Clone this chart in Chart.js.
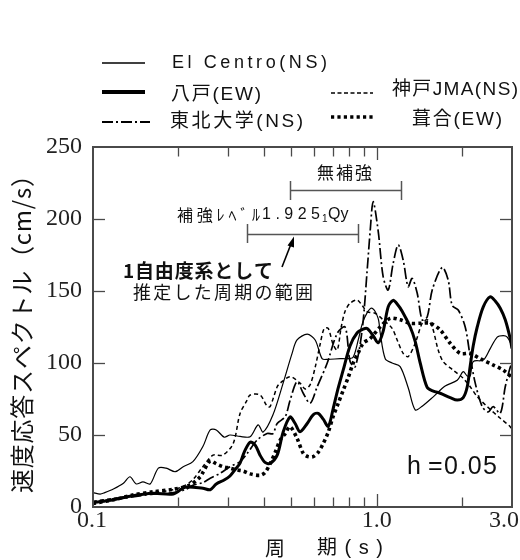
<!DOCTYPE html>
<html>
<head>
<meta charset="utf-8">
<script src="https://cdn.jsdelivr.net/npm/chart.js@4.4.1/dist/chart.umd.min.js"></script>
<style>
  html, body { margin: 0; padding: 0; background: #fff; }
  #wrap { width: 520px; height: 560px; }
</style>
</head>
<body>
<div id="wrap"><canvas id="c" width="520" height="560"></canvas></div>
<script>
// 速度応答スペクトル (h = 0.05) — periods in s, velocities in cm/s
const seriesNames = ['El Centro(NS)', '八戸(EW)', '東北大学(NS)', '神戸JMA(NS)', '葺合(EW)'];

const elCentroT = [0.100, 0.106, 0.110, 0.118, 0.128, 0.135, 0.142, 0.150, 0.159, 0.170, 0.181, 0.195, 0.208, 0.225, 0.244, 0.259, 0.272, 0.290, 0.304, 0.330, 0.358, 0.382, 0.398, 0.431, 0.468, 0.503, 0.524, 0.569, 0.607, 0.642, 0.669, 0.744, 0.787, 0.826, 0.861, 0.889, 0.926, 0.964, 1.012, 1.029, 1.072, 1.134, 1.210, 1.291, 1.367, 1.447, 1.583, 1.744, 1.923, 2.019, 2.086, 2.137, 2.190, 2.376, 2.514, 2.661, 2.795, 2.886, 3.0];
const elCentroV = [10, 9, 10, 12.5, 16.5, 21, 16, 17.5, 16, 27, 27, 24.5, 28, 31.5, 42, 53.5, 53.5, 48.5, 50, 49, 48.8, 57, 52, 64, 86, 106.5, 116, 120, 116, 103, 102.5, 103, 103, 104, 116, 127, 135, 138, 131, 121, 103, 100, 97.5, 83, 67.5, 70, 76.5, 84, 88, 94, 91, 91, 101, 102, 110, 118, 119, 118, 112];

const hachinoheT = [0.100, 0.118, 0.135, 0.163, 0.192, 0.211, 0.244, 0.259, 0.272, 0.290, 0.304, 0.317, 0.330, 0.341, 0.358, 0.373, 0.388, 0.404, 0.421, 0.446, 0.468, 0.495, 0.516, 0.537, 0.569, 0.597, 0.622, 0.648, 0.675, 0.702, 0.726, 0.762, 0.806, 0.854, 0.896, 0.926, 0.972, 1.012, 1.054, 1.098, 1.143, 1.181, 1.230, 1.313, 1.367, 1.424, 1.507, 1.583, 1.675, 1.816, 1.923, 2.019, 2.086, 2.137, 2.190, 2.262, 2.376, 2.514, 2.618, 2.727, 2.840, 2.957, 3.0];
const hachinoheV = [3, 5, 7.5, 9.5, 9, 13.7, 13, 12, 16, 18.7, 21.5, 26, 30.5, 38, 45, 43, 36, 31, 30.3, 36, 52, 62.5, 58, 52.3, 58, 64, 65, 61, 56, 68, 80, 95, 112, 121, 123.5, 124, 119, 114, 122, 139, 143.5, 141, 136, 125, 115, 100, 83, 80.5, 79, 76, 74.3, 76, 83.5, 98, 112, 125, 139, 146, 143, 138, 130, 117, 110];

const tohokuT = [0.100, 0.118, 0.138, 0.163, 0.192, 0.211, 0.225, 0.244, 0.259, 0.281, 0.304, 0.330, 0.349, 0.379, 0.411, 0.431, 0.446, 0.476, 0.495, 0.524, 0.551, 0.583, 0.617, 0.669, 0.726, 0.774, 0.806, 0.840, 0.889, 0.926, 0.949, 0.972, 1.012, 1.054, 1.098, 1.143, 1.191, 1.240, 1.291, 1.334, 1.390, 1.447, 1.507, 1.570, 1.702, 1.787, 1.846, 1.939, 2.052, 2.137, 2.226, 2.356, 2.474, 2.576, 2.727, 2.840, 2.957, 3.0];
const tohokuV = [3, 5, 7, 9, 10, 12, 15, 17, 20, 23.5, 28, 31.5, 37, 46.5, 51, 51, 58, 62.7, 74, 87, 79, 72, 83.5, 99.8, 120.6, 125, 101, 97.4, 123, 164.6, 192, 212, 192, 160, 150.7, 169, 182, 171.5, 153, 158.8, 148.4, 130, 132, 150.7, 166.4, 157.6, 140, 136.8, 125, 104.4, 86, 69.7, 66, 69.7, 65, 83.5, 97, 100];

const kobeT = [0.100, 0.118, 0.138, 0.163, 0.192, 0.211, 0.225, 0.244, 0.265, 0.287, 0.312, 0.330, 0.349, 0.358, 0.388, 0.411, 0.421, 0.446, 0.457, 0.495, 0.537, 0.560, 0.583, 0.607, 0.632, 0.653, 0.675, 0.702, 0.726, 0.750, 0.774, 0.806, 0.854, 0.889, 0.926, 0.988, 1.054, 1.134, 1.181, 1.240, 1.291, 1.367, 1.447, 1.507, 1.570, 1.648, 1.716, 1.861, 2.019, 2.137, 2.262, 2.454, 2.727, 2.957, 3.0];
const kobeV = [4, 6, 8, 10, 12, 15, 19, 28, 36, 36, 44, 65, 74, 77.8, 77.8, 70, 69.7, 83.5, 86, 90.5, 86, 82, 85, 97, 113, 124, 124, 113, 109, 125, 136, 141.5, 143.7, 140, 135.6, 134.5, 130, 124, 116, 106.7, 104.4, 113.7, 127.6, 130, 125, 109, 101, 95, 89.4, 83.5, 76.6, 69.7, 61.6, 55.8, 53];

const fukiaiT = [0.100, 0.118, 0.138, 0.163, 0.192, 0.220, 0.239, 0.244, 0.259, 0.272, 0.287, 0.304, 0.322, 0.338, 0.358, 0.388, 0.404, 0.421, 0.439, 0.457, 0.476, 0.495, 0.524, 0.551, 0.573, 0.597, 0.622, 0.648, 0.675, 0.702, 0.732, 0.762, 0.794, 0.826, 0.861, 0.896, 0.949, 1.029, 1.116, 1.210, 1.313, 1.424, 1.544, 1.675, 1.816, 1.970, 2.137, 2.318, 2.576, 2.795, 3.0];
const fukiaiV = [2.5, 5, 8.3, 10.6, 12.3, 15.3, 21, 24, 32, 30, 28, 27, 25.7, 25, 23, 22, 24, 30, 38, 46.5, 51, 55.8, 47.7, 37.3, 35, 35, 38, 44, 52, 62.7, 72, 81, 90, 99.8, 107, 113.7, 117, 125, 131, 130, 127.6, 127.6, 127.6, 123, 113.7, 106.7, 106.7, 103, 98.6, 95, 90];

// axis ticks
const periodMinorTicks = [0.2, 0.3, 0.4, 0.5, 0.6, 0.7, 0.8, 0.9, 1.0, 2.0];
const periodLabelValues = [0.1, 1.0, 3.0];
const periodLabelTexts = ['0.1', '1.0', '3.0'];
const velocityTicks = [50, 100, 150, 200];

const CJK = '"Noto Sans CJK JP"';
const SANS = '"Liberation Sans", "Noto Sans CJK JP"';
const SERIF = '"Liberation Serif", "Times New Roman", serif';

function pts(T, V) { return T.map((t, i) => ({ x: t, y: V[i] })); }

const lineStyles = [
  { borderWidth: 1.2, borderDash: [] },
  { borderWidth: 3, borderDash: [] },
  { borderWidth: 1.7, borderDash: [11, 3, 2, 3] },
  { borderWidth: 1.5, borderDash: [4, 3] },
  { borderWidth: 3.6, borderDash: [3.2, 3.2] }
];
const seriesData = [
  pts(elCentroT, elCentroV),
  pts(hachinoheT, hachinoheV),
  pts(tohokuT, tohokuV),
  pts(kobeT, kobeV),
  pts(fukiaiT, fukiaiV)
];

// draws a string spread over a given width, char by char
function spread(ctx, text, x, y, width, font) {
  ctx.font = font;
  const chars = [...text];
  const widths = chars.map(ch => ctx.measureText(ch).width);
  const total = widths.reduce((a, b) => a + b, 0);
  const sp = chars.length > 1 ? (width - total) / (chars.length - 1) : 0;
  let cx = x;
  chars.forEach((ch, i) => { ctx.fillText(ch, cx, y); cx += widths[i] + sp; });
}

function seg(ctx, x1, y1, x2, y2, w, dash) {
  ctx.save();
  ctx.lineWidth = w;
  ctx.setLineDash(dash || []);
  ctx.beginPath(); ctx.moveTo(x1, y1); ctx.lineTo(x2, y2); ctx.stroke();
  ctx.restore();
}

const decorations = {
  id: 'decorations',
  afterDraw(chart) {
    const ctx = chart.ctx;
    const a = chart.chartArea;
    const xs = chart.scales.x, ys = chart.scales.y;
    ctx.save();
    ctx.strokeStyle = '#4a4a4a';
    ctx.fillStyle = '#111';
    ctx.textBaseline = 'middle';
    ctx.textAlign = 'left';

    // frame
    ctx.lineWidth = 2;
    ctx.strokeRect(a.left, a.top, a.right - a.left, a.bottom - a.top);

    // inward tick marks
    periodMinorTicks.forEach(v => {
      const px = Math.round(xs.getPixelForValue(v)) + 0.5;
      const len = v === 1.0 ? 13 : 9.5;
      seg(ctx, px, a.bottom, px, a.bottom - len, 1.3);
      seg(ctx, px, a.top, px, a.top + len, 1.3);
    });
    velocityTicks.forEach(v => {
      const py = Math.round(ys.getPixelForValue(v)) + 0.5;
      seg(ctx, a.left, py, a.left + 12, py, 1.3);
      seg(ctx, a.right, py, a.right - 12, py, 1.3);
    });

    // period labels
    ctx.font = '24px ' + SERIF;
    ctx.fillStyle = '#222';
    ctx.textAlign = 'center';
    periodLabelValues.forEach((v, i) => {
      let px = xs.getPixelForValue(v);
      if (i === periodLabelValues.length - 1) px -= 8;
      if (i === 0) px -= 1;
      ctx.fillText(periodLabelTexts[i], px, 521);
    });
    ctx.textAlign = 'left';
    ctx.fillStyle = '#111';

    // axis titles
    spread(ctx, '周', 265, 548, 20, '20px ' + CJK);
    spread(ctx, '期(s)', 317, 548, 66, '20px ' + SANS);
    ctx.save();
    ctx.translate(22, 493);
    ctx.rotate(-Math.PI / 2);
    spread(ctx, '速度応答スペクトル（cm/s）', 0, 0, 330, '24px ' + CJK);
    ctx.restore();

    // legend
    ctx.strokeStyle = '#000';
    seg(ctx, 102, 63, 145, 63, 1.3);
    seg(ctx, 102, 92, 145, 92, 4);
    seg(ctx, 102, 122, 150, 122, 1.8, [11, 3, 2, 3]);
    seg(ctx, 331, 93, 373, 93, 1.5, [4, 2.5]);
    seg(ctx, 331, 117, 373, 117, 3.6, [3.2, 3.2]);
    spread(ctx, seriesNames[0], 172, 63, 155, '18px ' + SANS);
    spread(ctx, seriesNames[1], 171, 95, 90, '19px ' + SANS);
    spread(ctx, seriesNames[2], 170, 122, 133, '19px ' + SANS);
    spread(ctx, seriesNames[3], 392, 90, 126, '19px ' + SANS);
    spread(ctx, seriesNames[4], 412, 120, 90, '19px ' + SANS);

    // period-range annotations
    ctx.strokeStyle = '#555';
    spread(ctx, '無補強', 317, 173, 55, '17px ' + CJK);
    seg(ctx, 290, 190.5, 402, 190.5, 1.5);
    seg(ctx, 290.5, 181, 290.5, 200, 1.5);
    seg(ctx, 401.5, 181, 401.5, 200, 1.5);

    spread(ctx, '補強ﾚﾍﾞﾙ', 177, 215, 83, '16px ' + CJK);
    spread(ctx, '1.925', 262, 215, 58, '16px ' + SANS);
    ctx.font = '10px ' + SANS;
    ctx.fillText('1', 322, 219.5);
    ctx.font = '16px ' + SANS;
    ctx.fillText('Qy', 328, 215);
    seg(ctx, 247, 234.5, 359, 234.5, 1.5);
    seg(ctx, 247.5, 224, 247.5, 243, 1.5);
    seg(ctx, 358.5, 224, 358.5, 243, 1.5);

    // arrow
    ctx.strokeStyle = '#000';
    seg(ctx, 282, 267, 291, 244, 1.6);
    ctx.beginPath();
    ctx.moveTo(294, 236.5);
    ctx.lineTo(287.5, 245.5);
    ctx.lineTo(294, 247.5);
    ctx.closePath();
    ctx.fillStyle = '#000';
    ctx.fill();
    ctx.fillStyle = '#111';

    spread(ctx, '1自由度系として', 123, 270.5, 150, 'bold 19px ' + CJK);
    spread(ctx, '推定した周期の範囲', 133, 292, 180, '18px ' + CJK);

    // damping
    spread(ctx, 'h', 407, 467, 14, '25px ' + SANS);
    spread(ctx, '=0.05', 428, 467, 69, '25px ' + SANS);

    ctx.restore();
  }
};

new Chart(document.getElementById('c'), {
  type: 'line',
  data: {
    datasets: seriesNames.map((name, i) => ({
      label: name,
      data: seriesData[i],
      borderColor: '#000',
      backgroundColor: '#000',
      borderWidth: lineStyles[i].borderWidth,
      borderDash: lineStyles[i].borderDash,
      borderCapStyle: 'butt',
      borderJoinStyle: 'round',
      pointRadius: 0,
      tension: 0.3,
      fill: false
    }))
  },
  options: {
    responsive: false,
    animation: false,
    devicePixelRatio: 1,
    layout: { padding: { top: 147, right: 8, bottom: 0, left: 0 } },
    plugins: { legend: { display: false }, tooltip: { enabled: false } },
    scales: {
      x: {
        type: 'logarithmic',
        min: 0.1,
        max: 3.0,
        ticks: { display: false },
        grid: { display: false, drawTicks: false },
        border: { display: false },
        afterFit(s) { s.height = 53; }
      },
      y: {
        type: 'linear',
        min: 0,
        max: 250,
        ticks: {
          stepSize: 50,
          padding: 11,
          color: '#222',
          font: { family: 'Liberation Serif', size: 24 }
        },
        grid: { display: false, drawTicks: false },
        border: { display: false },
        afterFit(s) { s.width = 93; }
      }
    }
  },
  plugins: [decorations]
});
</script>
</body>
</html>
